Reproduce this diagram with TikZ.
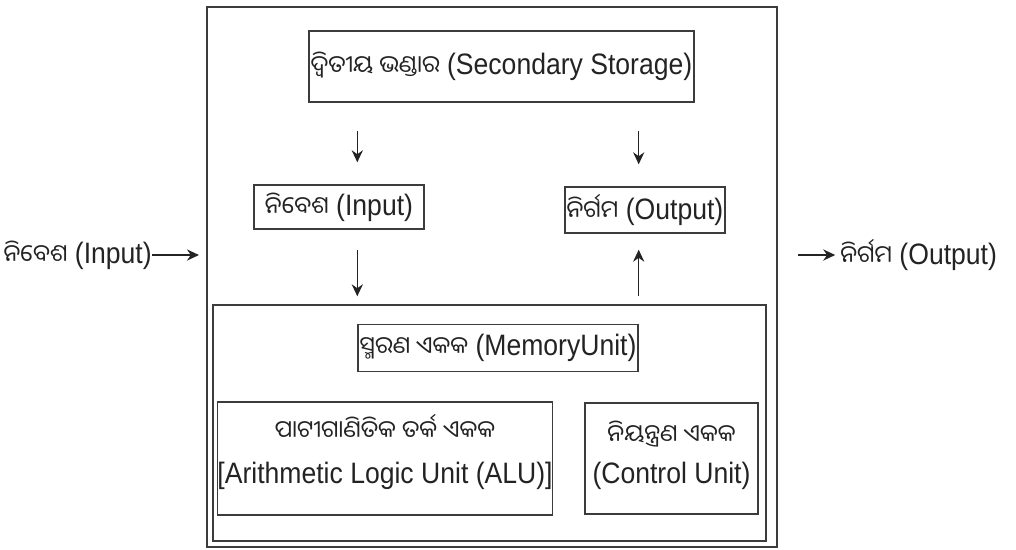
\documentclass[tikz,border=0pt]{standalone}
\usepackage{fontspec}
\usepackage{xcolor}
\usetikzlibrary{arrows.meta}
\setmainfont{Liberation Sans}[FakeStretch=0.9]
\newfontfamily\odia[Script=Oriya,Scale=0.8]{Noto Sans Oriya UI}
\definecolor{boxgray}{RGB}{60,60,60}
\definecolor{inkgray}{RGB}{35,35,35}

\begin{document}
\begin{tikzpicture}[
    unitbox/.style={draw=boxgray,line width=1pt,text=inkgray,align=center,inner sep=0pt},
    arr/.style={-{Stealth[length=3mm,width=2.8mm]},line width=1pt,draw=inkgray},
    lbl/.style={text=inkgray,inner sep=0pt},
    font=\fontsize{21}{25}\selectfont
]
            \useasboundingbox (0,0) rectangle (25.4,-13.725);

            % Outer frame and processor frame
            \node[unitbox,line width=1.2pt,minimum width=14.25cm,minimum height=13.5cm] (frame) at (12.3,-6.925) {};
            \node[unitbox,minimum width=13.825cm,minimum height=5.9cm] (cpu) at (12.2375,-10.575) {};

            % Storage, input, output
            \node[unitbox,minimum width=9.625cm,minimum height=1.775cm] (sec) at (12.5375,-1.6625)
                {{\odia ଦ୍ୱିତୀୟ ଭଣ୍ଡାର} (Secondary Storage)};
            \node[unitbox,minimum width=4.25cm,minimum height=1.1cm] (in) at (8.475,-5.175)
                {{\odia ନିବେଶ} (Input)};
            \node[unitbox,minimum width=4cm,minimum height=1.15cm] (out) at (16.125,-5.25)
                {{\odia ନିର୍ଗମ} (Output)};

            % Units inside the processor
            \node[unitbox,minimum width=7cm,minimum height=1.175cm] (mem) at (12.45,-8.7)
                {{\odia ସ୍ମରଣ ଏକକ} (MemoryUnit)};
            \node[unitbox,minimum width=8.2cm,minimum height=2.825cm] (alu) at (9.625,-11.4625)
                {{\odia ପାଟୀଗାଣିତିକ ତର୍କ ଏକକ}\\[6pt] [Arithmetic Logic Unit (ALU)]\\[-11pt]};
            \node[unitbox,minimum width=4.325cm,minimum height=2.775cm] (ctl) at (16.7875,-11.4625)
                {{\odia ନିୟନ୍ତ୍ରଣ ଏକକ}\\[4pt] (Control Unit)\\[-16pt]};

            % Outside labels
            \node[lbl,anchor=east] (inlbl) at (3.8,-6.375) {{\odia ନିବେଶ} (Input)};
            \node[lbl,anchor=west] (outlbl) at (21,-6.375) {{\odia ନିର୍ଗମ} (Output)};

            % Arrows
            \draw[arr,shorten >=0.18cm] (inlbl.east) -- (inlbl.east -| frame.west);
            \draw[arr,shorten <=0.5cm,shorten >=0.12cm] (outlbl.west -| frame.east) -- (outlbl.west);
            \draw[arr,shorten <=0.7cm,shorten >=0.55cm] (sec.south -| mem.west) -- (in.north -| mem.west);
            \draw[arr,shorten <=0.7cm,shorten >=0.55cm] (sec.south -| mem.east) -- (out.north -| mem.east);
            \draw[arr,shorten <=0.5cm,shorten >=0.2cm] (in.south -| mem.west) -- (cpu.north -| mem.west);
            \draw[arr,shorten <=0.2cm,shorten >=0.4cm] (cpu.north -| mem.east) -- (out.south -| mem.east);
\end{tikzpicture}
\end{document}
